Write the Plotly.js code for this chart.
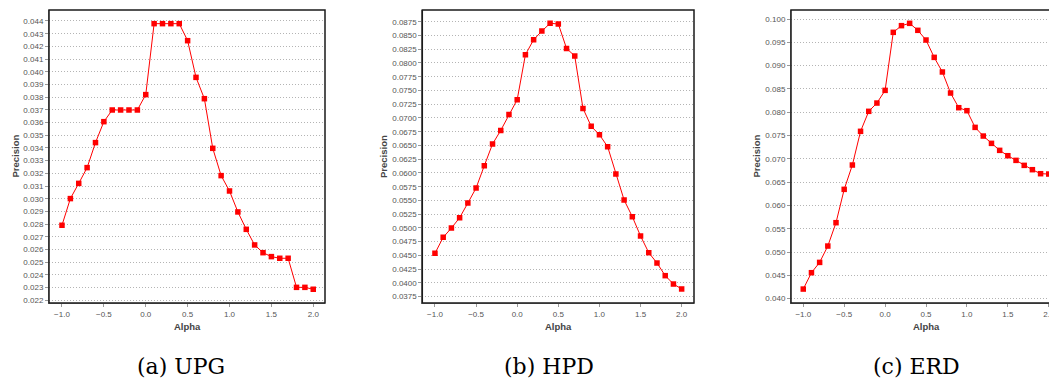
<!DOCTYPE html>
<html>
<head>
<meta charset="utf-8">
<script src="https://cdn.plot.ly/plotly-3.0.1.min.js"></script>
<style>
html,body{margin:0;padding:0;background:#fff;}
#chart{width:1049px;height:378px;}
</style>
</head>
<body>
<div id="chart"></div>
<script>
const alpha = [-1.0,-0.9,-0.8,-0.7,-0.6,-0.5,-0.4,-0.3,-0.2,-0.1,0.0,0.1,0.2,0.3,0.4,0.5,0.6,0.7,0.8,0.9,1.0,1.1,1.2,1.3,1.4,1.5,1.6,1.7,1.8,1.9,2.0];
const precisionUPG = [0.02791,0.03001,0.03121,0.03245,0.03442,0.03607,0.03699,0.03699,0.03699,0.03699,0.03820,0.04379,0.04379,0.04379,0.04379,0.04245,0.03956,0.03788,0.03397,0.03182,0.03061,0.02896,0.02759,0.02636,0.02575,0.02544,0.02531,0.02531,0.02302,0.02302,0.02287];
const precisionHPD = [0.04538,0.04829,0.04998,0.05186,0.05453,0.05726,0.06132,0.06526,0.06774,0.07065,0.07332,0.08150,0.08423,0.08580,0.08720,0.08710,0.08265,0.08126,0.07174,0.06847,0.06695,0.06477,0.05980,0.05508,0.05205,0.04853,0.04550,0.04362,0.04132,0.03980,0.03890];
const precisionERD = [0.04206,0.04557,0.04778,0.05129,0.05630,0.06345,0.06867,0.07590,0.08019,0.08197,0.08469,0.09714,0.09857,0.09907,0.09757,0.09549,0.09177,0.08863,0.08412,0.08097,0.08033,0.07675,0.07489,0.07332,0.07182,0.07067,0.06967,0.06860,0.06767,0.06681,0.06674];
const captions = ["(a) UPG", "(b) HPD", "(c) ERD"];
const xTitle = "Alpha";
const yTitle = "Precision";

const W = 1049, H = 378;
const FONT = '"Liberation Sans", Arial, sans-serif';
const tickFont = {family: FONT, size: 8, color: '#555555'};

function trace(y, xa, ya) {
  return {
    x: alpha, y: y, xaxis: xa, yaxis: ya, type: 'scatter', mode: 'lines+markers',
    line: {color: '#ff0000', width: 1},
    marker: {symbol: 'square', size: 5.5, color: '#ff0000'},
    hoverinfo: 'x+y'
  };
}

function xAxis(domain, range, anchor) {
  return {
    domain: domain, range: range, anchor: anchor,
    tick0: 0, dtick: 0.5, tickformat: '.1f',
    ticks: 'outside', ticklen: 3, tickcolor: '#999999', tickwidth: 1,
    showgrid: false, zeroline: false,
    showline: true, linecolor: '#888888', linewidth: 1,
    tickfont: tickFont, fixedrange: true, ticklabeloverflow: 'allow'
  };
}
function yAxis(domain, range, dtick, fmt, anchor) {
  return {
    domain: domain, range: range, anchor: anchor,
    tick0: 0, dtick: dtick, tickformat: fmt,
    ticks: 'outside', ticklen: 3, tickcolor: '#999999', tickwidth: 1,
    showgrid: true, gridcolor: '#b4b4b4', griddash: '1px,2px', gridwidth: 1,
    zeroline: false,
    showline: true, linecolor: '#888888', linewidth: 1,
    tickfont: tickFont, fixedrange: true
  };
}

const yDom = [(H - 303) / H, (H - 10) / H];

const data = [
  trace(precisionUPG, 'x', 'y'),
  trace(precisionHPD, 'x2', 'y2'),
  trace(precisionERD, 'x3', 'y3')
];

function frame(xr, yr, x1) {
  return {type: 'rect', xref: xr + ' domain', yref: yr + ' domain', x0: 0, x1: x1, y0: 0, y1: 1,
          line: {color: '#1a1a1a', width: 1.5}, fillcolor: 'rgba(0,0,0,0)', layer: 'above'};
}

function ann(text, x, y, opts) {
  return Object.assign({text: text, x: x / W, y: (H - y) / H, xref: 'paper', yref: 'paper',
    showarrow: false, xanchor: 'center', yanchor: 'middle'}, opts);
}
const axTitleFont = {family: FONT, size: 9.5, color: '#444444', weight: 'bold'};
const capFont = {family: '"DejaVu Serif", "Liberation Serif", serif', size: 22, color: '#000000'};

const layout = {
  width: W, height: H,
  margin: {l: 0, r: 0, t: 0, b: 0},
  paper_bgcolor: '#ffffff', plot_bgcolor: '#ffffff',
  showlegend: false,
  xaxis: xAxis([49 / W, 325 / W], [-1.155, 2.14], 'y'),
  yaxis: yAxis(yDom, [0.021787, 0.044866], 0.001, '.3f', 'x'),
  xaxis2: xAxis([422.3 / W, 694 / W], [-1.154, 2.15], 'y2'),
  yaxis2: yAxis(yDom, [0.03635, 0.08963], 0.0025, '.4f', 'x2'),
  xaxis3: xAxis([791 / W, 1], [-1.15, 2.003], 'y3'),
  yaxis3: yAxis(yDom, [0.03907, 0.10193], 0.005, '.3f', 'x3'),
  shapes: [frame('x', 'y', 1), frame('x2', 'y2', 1), frame('x3', 'y3', 1.05)],
  annotations: [
    ann(yTitle, 15, 156.5, {textangle: -90, font: axTitleFont}),
    ann(yTitle, 383.5, 156.5, {textangle: -90, font: axTitleFont}),
    ann(yTitle, 756, 156.5, {textangle: -90, font: axTitleFont}),
    ann(xTitle, 187, 326, {font: axTitleFont}),
    ann(xTitle, 558, 326, {font: axTitleFont}),
    ann(xTitle, 926, 326, {font: axTitleFont}),
    ann(captions[0], 181, 366.5, {font: capFont}),
    ann(captions[1], 549, 366.5, {font: capFont}),
    ann(captions[2], 916.7, 366.5, {font: capFont})
  ]
};

Plotly.newPlot('chart', data, layout, {staticPlot: true, displayModeBar: false});
</script>
</body>
</html>
